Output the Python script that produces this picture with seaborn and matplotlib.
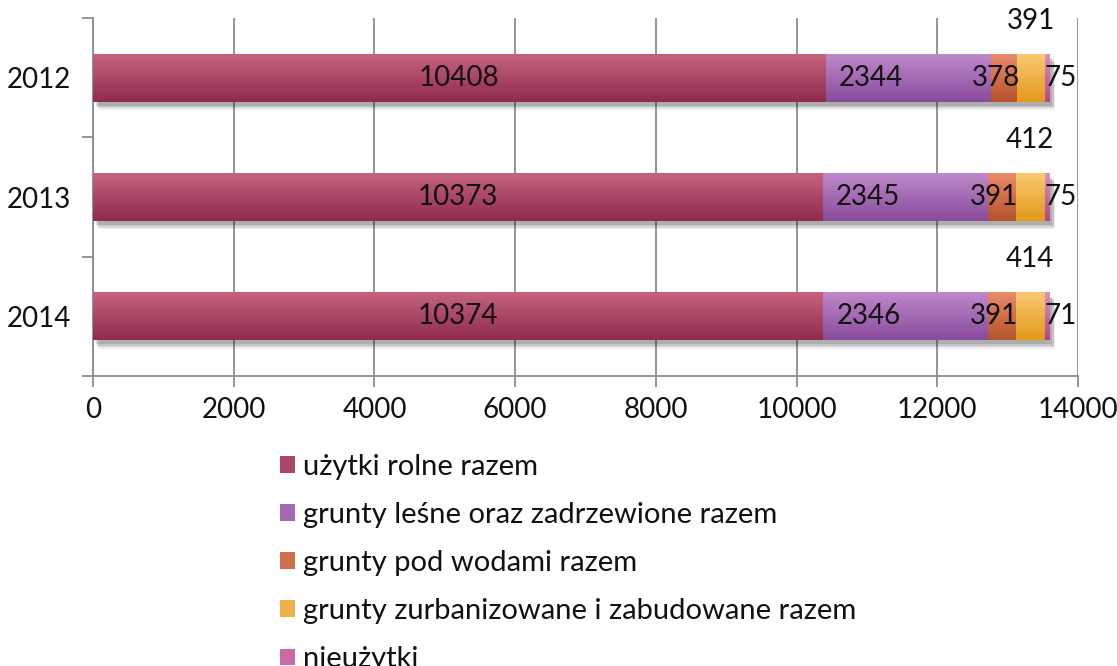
import numpy as np
import pandas as pd
import matplotlib
matplotlib.use("Agg")
import matplotlib.pyplot as plt
import matplotlib.colors as mcolors
import matplotlib.patheffects as pe
from matplotlib.patches import Patch
import seaborn as sns

years = ["2012", "2013", "2014"]
series_names = [
    "użytki rolne razem",
    "grunty leśne oraz zadrzewione razem",
    "grunty pod wodami razem",
    "grunty zurbanizowane i zabudowane razem",
    "nieużytki",
]
rolne = [10408, 10373, 10374]
lesne = [2344, 2345, 2346]
wody = [378, 391, 391]
zabudowane = [391, 412, 414]
nieuzytki = [75, 75, 71]
xticks = [0, 2000, 4000, 6000, 8000, 10000, 12000, 14000]

values = [rolne, lesne, wody, zabudowane, nieuzytki]
top_colors = ["#C5637F", "#BF88CA", "#E98A6B", "#F9C873", "#DE8FBE"]
bot_colors = ["#8E2B4F", "#884C9C", "#B4542B", "#E29A1B", "#B4458A"]
# label offsets in pixels (dx, dy)
label_off = [(0, 0), (-37, 0), (-8, 0), (0, 57), (14, 0)]

sns.set_theme(style="white")
plt.rcParams["font.family"] = ["Lato", "DejaVu Sans"]
FS = 20
LFS = 21

fig = plt.figure(figsize=(11.17, 6.66), dpi=100)
ax = fig.add_axes([0.0833, 0.4354, 0.8818, 0.5376])

cum = np.zeros(len(years))
cums = []
for v in values:
    cum = cum + np.array(v, dtype=float)
    cums.append(cum.copy())

shadow = [
    pe.SimplePatchShadow(offset=(4, -6), shadow_rgbFace="k", alpha=0.07),
    pe.SimplePatchShadow(offset=(3, -5), shadow_rgbFace="k", alpha=0.09),
    pe.SimplePatchShadow(offset=(3, -4), shadow_rgbFace="k", alpha=0.11),
    pe.SimplePatchShadow(offset=(2, -3), shadow_rgbFace="k", alpha=0.13),
    pe.Normal(),
]

# draw cumulative totals, largest first (stacked bars via seaborn)
for k in range(len(values) - 1, -1, -1):
    d = pd.DataFrame({"year": years, "val": cums[k]})
    n_before = len(ax.patches)
    sns.barplot(data=d, y="year", x="val", orient="h", color=top_colors[k],
                width=0.4, ax=ax, errorbar=None, zorder=3)
    new = ax.patches[n_before:]
    grad = np.linspace(0, 1, 64).reshape(-1, 1)
    cmap = mcolors.LinearSegmentedColormap.from_list(
        "g%d" % k, [top_colors[k], bot_colors[k]])
    for p in new:
        x0, y0 = p.get_x(), p.get_y()
        w, h = p.get_width(), p.get_height()
        if k == len(values) - 1:
            p.set_path_effects(shadow)
        p.set_edgecolor("none")
        im = ax.imshow(grad, cmap=cmap, aspect="auto",
                       extent=[x0, x0 + w, y0 + h, y0], zorder=3 + (len(values) - k) * 0.1,
                       interpolation="bilinear")
        im.set_clip_path(p)

ax.set_xlim(0, 14000)
ax.set_ylim(2.5, -0.5)
ax.set_xticks(xticks)
ax.set_xticklabels([str(t) for t in xticks])
ax.set_xlabel("")
ax.set_ylabel("")

# labels
for k, v in enumerate(values):
    start = cums[k] - np.array(v)
    for i, val in enumerate(v):
        cx = start[i] + val / 2
        dx, dy = label_off[k]
        ax.annotate(str(val), xy=(cx, i), xytext=(dx, dy), textcoords="offset pixels",
                    ha="center", va="center", fontsize=FS, color="#111111", zorder=10)

grid_c = "#8C8C8C"
ax.grid(axis="x", color=grid_c, linewidth=1.3, zorder=0)
ax.set_axisbelow(True)
for s in ["top", "right"]:
    ax.spines[s].set_visible(False)
for s in ["left", "bottom"]:
    ax.spines[s].set_color(grid_c)
    ax.spines[s].set_linewidth(1.3)

ax.tick_params(axis="y", which="major", length=0, labelsize=FS, pad=16, labelcolor="#111111")
ax.set_yticks([-0.5, 0.5, 1.5, 2.5], minor=True)
ax.tick_params(axis="y", which="minor", length=8, width=1.3, color=grid_c, direction="out", left=True)
ax.tick_params(axis="x", which="major", length=8, width=1.3, color=grid_c, direction="out",
               labelsize=FS, pad=7, labelcolor="#111111", bottom=True)

handles = []
for k in range(len(values)):
    mid = mcolors.to_hex(np.mean([mcolors.to_rgb(top_colors[k]), mcolors.to_rgb(bot_colors[k])], axis=0))
    handles.append(Patch(facecolor=mid, edgecolor="none", label=series_names[k]))
leg = fig.legend(handles=handles, loc="upper left", bbox_to_anchor=(0.251, 0.319),
                 frameon=False, fontsize=LFS, handlelength=0.5, handleheight=0.5,
                 handletextpad=0.27, labelspacing=0.76, borderaxespad=0, borderpad=0)
for t in leg.get_texts():
    t.set_color("#111111")

fig.savefig("out.png", dpi=100)
